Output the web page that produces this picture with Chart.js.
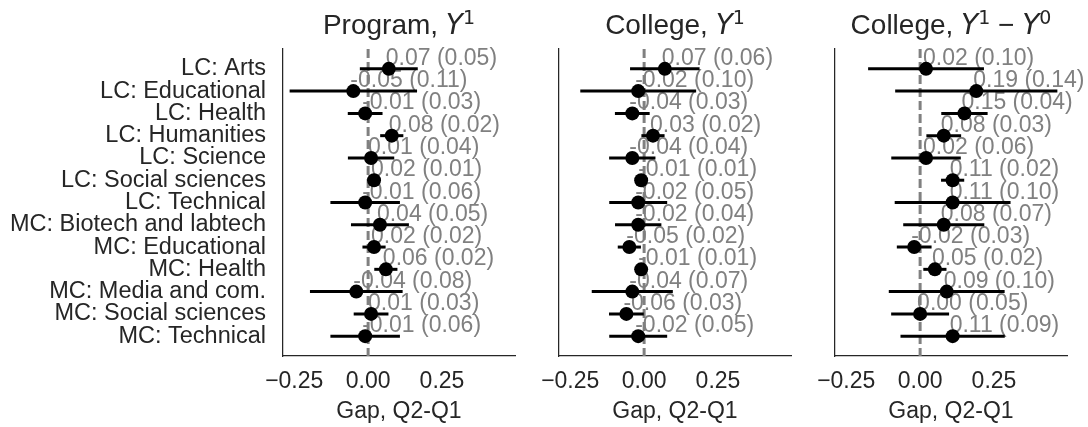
<!DOCTYPE html>
<html>
<head>
<meta charset="utf-8">
<script src="https://cdn.jsdelivr.net/npm/chart.js@4.4.1/dist/chart.umd.min.js"></script>
<style>
  body { margin: 0; background: #fff; }
  #wrap { position: relative; width: 1088px; height: 427px; }
  canvas { position: absolute; left: 0; top: 0; }
</style>
</head>
<body>
<div id="wrap">
  <canvas id="p1" width="1088" height="427"></canvas>
  <canvas id="p2" width="1088" height="427"></canvas>
  <canvas id="p3" width="1088" height="427"></canvas>
</div>
<script>
// data: gap estimate and its standard error per field
const categories = [
    "LC: Arts", "LC: Educational", "LC: Health", "LC: Humanities", "LC: Science",
    "LC: Social sciences", "LC: Technical", "MC: Biotech and labtech", "MC: Educational",
    "MC: Health", "MC: Media and com.", "MC: Social sciences", "MC: Technical",
];
const programGap = [0.07, -0.05, -0.01, 0.08, 0.01, 0.02, -0.01, 0.04, 0.02, 0.06, -0.04, 0.01, -0.01];
const programSE = [0.05, 0.11, 0.03, 0.02, 0.04, 0.01, 0.06, 0.05, 0.02, 0.02, 0.08, 0.03, 0.06];
const collegeGap = [0.07, -0.02, -0.04, 0.03, -0.04, -0.01, -0.02, -0.02, -0.05, -0.01, -0.04, -0.06, -0.02];
const collegeSE = [0.06, 0.10, 0.03, 0.02, 0.04, 0.01, 0.05, 0.04, 0.02, 0.01, 0.07, 0.03, 0.05];
const diffGap = [0.02, 0.19, 0.15, 0.08, 0.02, 0.11, 0.11, 0.08, -0.02, 0.05, 0.09, 0.00, 0.11];
const diffSE = [0.10, 0.14, 0.04, 0.03, 0.06, 0.02, 0.10, 0.07, 0.03, 0.02, 0.10, 0.05, 0.09];
const xTicks = [-0.25, 0, 0.25];

const FONT = "'Liberation Sans', Arial, sans-serif";
const INK = "#262626";
const X_MIN = -0.288, X_MAX = 0.497;
const Y_MIN = -0.89, Y_MAX = categories.length - 1 + 0.89;

Chart.defaults.font.family = FONT;
Chart.defaults.color = INK;

// gray "value (se)" text, drawn right after the dashed zero line
const labelPlugin = {
    id: "gapLabels",
    afterDatasetDraw(chart, args) {
        if (args.index !== 0) return;
        const { ctx, scales } = chart;
        const o = chart.options.plugins.gapLabels;
        ctx.save();
        ctx.font = "23px " + FONT;
        ctx.fillStyle = "#808080";
        ctx.textAlign = "left";
        ctx.textBaseline = "alphabetic";
        o.vals.forEach((v, i) => {
            const px = scales.x.getPixelForValue(v) - 3;
            const py = scales.y.getPixelForValue(i) - 4;
            ctx.fillText(v.toFixed(2) + " (" + o.se[i].toFixed(2) + ")", px, py);
        });
        ctx.restore();
    },
};

// title with italic Y and superscripts
const titlePlugin = {
    id: "mathTitle",
    afterDraw(chart) {
        const parts = chart.options.plugins.mathTitle.parts;
        const { ctx, chartArea } = chart;
        const fontOf = (p) => p.sup ? "19px 'DejaVu Sans'" : p.it ? "italic 28px 'DejaVu Sans'" : "28px " + FONT;
        ctx.save();
        let total = 0;
        parts.forEach((p) => { ctx.font = fontOf(p); total += ctx.measureText(p.t).width; });
        let x = (chartArea.left + chartArea.right) / 2 - total / 2;
        ctx.fillStyle = INK;
        ctx.textBaseline = "alphabetic";
        ctx.textAlign = "left";
        parts.forEach((p) => {
            ctx.font = fontOf(p);
            ctx.fillText(p.t, x, p.sup ? 24 : 34);
            x += ctx.measureText(p.t).width;
        });
        ctx.restore();
    },
};

function makePanel(id, titleParts, vals, se, plotLeft, plotRight, showNames) {
    const zeroLine = {
        data: [{ x: 0, y: Y_MIN }, { x: 0, y: Y_MAX }],
        showLine: true,
        borderColor: "#808080",
        borderWidth: 3,
        borderDash: [9, 4],
        pointRadius: 0,
        order: 3,
    };
    const bars = vals.map((v, i) => ({
        data: [{ x: v - 1.96 * se[i], y: i }, { x: v + 1.96 * se[i], y: i }],
        showLine: true,
        borderColor: "#000",
        borderWidth: 3,
        pointRadius: 0,
        order: 2,
    }));
    const points = {
        data: vals.map((v, i) => ({ x: v, y: i })),
        backgroundColor: "#000",
        borderWidth: 0,
        pointRadius: 7,
        order: 1,
        clip: false,
    };

    new Chart(document.getElementById(id), {
        type: "scatter",
        data: { datasets: [zeroLine, ...bars, points] },
        options: {
            responsive: false,
            animation: false,
            devicePixelRatio: 1,
            layout: { padding: { left: 0, right: 1088 - plotRight, top: 49, bottom: 0 } },
            plugins: {
                legend: { display: false },
                tooltip: { enabled: false },
                gapLabels: { vals: vals, se: se },
                mathTitle: { parts: titleParts },
            },
            scales: {
                x: {
                    type: "linear",
                    min: X_MIN,
                    max: X_MAX,
                    grid: { display: false, drawTicks: false },
                    border: { display: true, color: INK, width: 1.25 },
                    afterBuildTicks: (s) => { s.ticks = xTicks.map((v) => ({ value: v })); },
                    afterFit: (s) => { s.height = 71; },
                    ticks: {
                        padding: 12,
                        font: { size: 23 },
                        color: INK,
                        callback: (v) => (v < 0 ? "\u2212" : "") + Math.abs(v).toFixed(2),
                    },
                    title: {
                        display: true,
                        text: "Gap, Q2-Q1",
                        font: { size: 23 },
                        color: INK,
                        padding: { top: 0, bottom: 1.5 },
                    },
                },
                y: {
                    type: "linear",
                    reverse: true,
                    min: Y_MIN,
                    max: Y_MAX,
                    grid: { display: false, drawTicks: false },
                    border: { display: true, color: INK, width: 1.25 },
                    afterBuildTicks: (s) => { s.ticks = categories.map((c, i) => ({ value: i })); },
                    afterFit: (s) => { s.width = plotLeft; },
                    ticks: {
                        display: showNames,
                        autoSkip: false,
                        padding: 17,
                        font: { size: 23.5 },
                        color: INK,
                        callback: (v) => categories[v],
                    },
                },
            },
        },
        plugins: [labelPlugin, titlePlugin],
    });
}

makePanel("p1", [{ t: "Program, " }, { t: "Y", it: true }, { t: "1", sup: true }],
    programGap, programSE, 283, 515, true);
makePanel("p2", [{ t: "College, " }, { t: "Y", it: true }, { t: "1", sup: true }],
    collegeGap, collegeSE, 559, 791, false);
makePanel("p3", [{ t: "College, " }, { t: "Y", it: true }, { t: "1", sup: true },
    { t: " \u2212 " }, { t: "Y", it: true }, { t: "0", sup: true }],
    diffGap, diffSE, 835, 1067, false);
</script>
</body>
</html>
